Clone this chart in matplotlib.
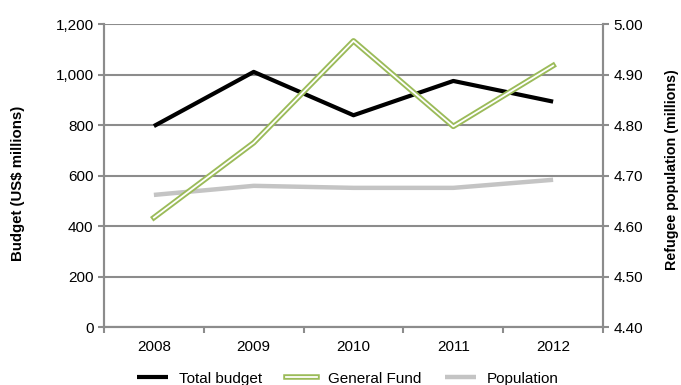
import numpy as np
import matplotlib.pyplot as plt
import matplotlib.patheffects as pe
from matplotlib.ticker import FuncFormatter, FixedLocator

plt.rcParams["font.family"] = ["Liberation Sans", "DejaVu Sans"]

#### data
years = ["2008", "2009", "2010", "2011", "2012"]
total_budget = [797, 1012, 840, 976, 894]
general_fund = [434, 731, 1135, 796, 1037]
population = [4.662, 4.680, 4.676, 4.676, 4.692]

#### plotting
fig = plt.figure(figsize=(6.81, 3.85), dpi=100)
ax = fig.add_axes([0.1527, 0.1506, 0.7328, 0.7858])
ax2 = ax.twinx()

grid_col = "#8c8c8c"
x = np.arange(len(years))

## budget lines on the left axis
ax.plot(x, total_budget, color="black", lw=3, label="Total budget",
        solid_capstyle="butt", zorder=4)
ax.plot(x, general_fund, color="white", lw=1.3, label="General Fund", zorder=5,
        path_effects=[pe.Stroke(linewidth=4, foreground="#9BBB59"), pe.Normal()])

## population on the right axis
ax2.plot(x, population, color="#c4c4c4", lw=3.2, label="Population",
         solid_capstyle="butt")

ax.set_ylim(0, 1200)
ax.set_yticks(np.arange(0, 1201, 200))
ax.yaxis.set_major_formatter(FuncFormatter(lambda v, p: f"{int(v):,}"))
ax2.set_ylim(4.40, 5.00)
ax2.set_yticks(np.arange(4.40, 5.001, 0.10))
ax2.yaxis.set_major_formatter(FuncFormatter(lambda v, p: f"{v:.2f}"))

ax.set_xlim(-0.5, len(years) - 0.5)
ax.set_xticks(x)
ax.set_xticklabels(years)
ax.xaxis.set_minor_locator(FixedLocator(np.arange(-0.5, len(years), 1)))

## grid + spines in grey
ax.grid(axis="y", color=grid_col, lw=1.5)
ax.set_axisbelow(True)
ax2.set_zorder(ax.get_zorder() - 1)
ax.patch.set_visible(False)
for a in (ax, ax2):
    for s in a.spines.values():
        s.set_color(grid_col)
        s.set_linewidth(1.5)
    a.spines["top"].set_visible(False)
    a.tick_params(colors=grid_col, labelcolor="black", labelsize=11, width=1.5, length=4)
ax.tick_params(axis="x", which="major", length=0, pad=9)
ax.tick_params(axis="x", which="minor", length=4, width=1.5, color=grid_col)

ax.set_ylabel("Budget (US$ millions)", fontsize=10.8, fontweight="bold")
ax2.set_ylabel("Refugee population (millions)", fontsize=10.3, fontweight="bold")
ax.yaxis.set_label_coords(-0.158, 0.476)
ax2.yaxis.set_label_coords(1.124, 0.519)

## legend underneath
h1, l1 = ax.get_legend_handles_labels()
h2, l2 = ax2.get_legend_handles_labels()
fig.legend(h1 + h2, l1 + l2, loc="center", bbox_to_anchor=(0.511, 0.016), ncol=3,
           frameon=False, fontsize=11, handlelength=2.0, columnspacing=1.6,
           handletextpad=0.7)

plt.savefig("out.png", dpi=100)
